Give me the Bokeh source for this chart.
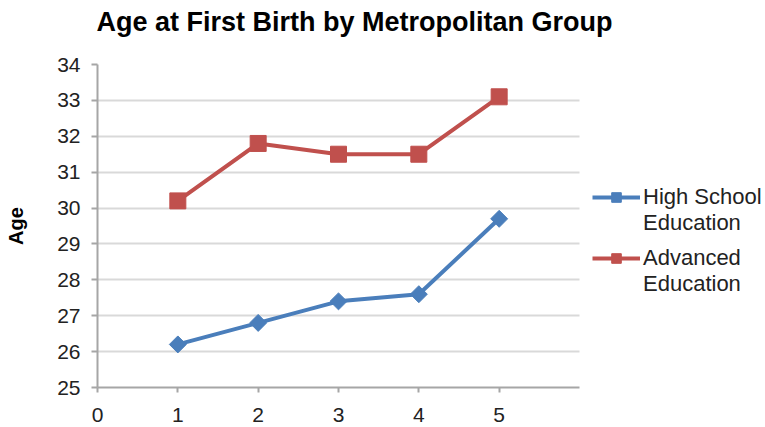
import numpy as np
from bokeh.plotting import figure
from bokeh.models import Range1d, FixedTicker, Legend, LegendItem, Title
from bokeh.embed import file_html
from bokeh.resources import INLINE

groups = [1, 2, 3, 4, 5]
high_school = [26.2, 26.8, 27.4, 27.6, 29.7]
advanced = [30.2, 31.8, 31.5, 31.5, 33.1]
x_ticks = [0, 1, 2, 3, 4, 5]
y_ticks = [25, 26, 27, 28, 29, 30, 31, 32, 33, 34]
x_axis_max = 6
title_text = "Age at First Birth by Metropolitan Group"

BLUE = "#4a7ebb"
RED = "#c0504d"
FONT = "Liberation Sans"

# frame spans from the y axis to the right edge of the page; the axis itself stops at 6
FRAME_L, AXIS_R, W = 97, 579, 765
x_end = x_axis_max * (W - FRAME_L) / (AXIS_R - FRAME_L)

p = figure(width=W, height=427, output_backend="svg", toolbar_location=None,
           x_range=Range1d(0, x_end), y_range=Range1d(25, 34),
           min_border_left=FRAME_L, min_border_right=0, min_border_top=64, min_border_bottom=40)
p.outline_line_color = None
p.background_fill_color = "white"
p.border_fill_color = "white"

# spacer nearest the frame, then the real title above it
spacer = Title(text=" ", text_font_size="10px", standoff=15, text_color="white")
p.add_layout(spacer, "above")
main_title = Title(text=title_text, text_font=FONT, text_font_size="27px",
                   text_font_style="bold", text_color="black", align="left",
                   offset=-1, standoff=0)
p.add_layout(main_title, "above")

p.xgrid.grid_line_color = None
try:
    p.ygrid.cross_bounds = (0, x_axis_max)
    p.ygrid.grid_line_color = "#d9d9d9"
    p.ygrid.grid_line_width = 2
except Exception:
    p.ygrid.grid_line_color = None
    p.segment(x0=[0] * len(y_ticks[1:]), x1=[x_axis_max] * len(y_ticks[1:]),
              y0=y_ticks[1:], y1=y_ticks[1:], line_color="#d9d9d9", line_width=2)

p.xaxis.ticker = FixedTicker(ticks=x_ticks)
p.yaxis.ticker = FixedTicker(ticks=y_ticks)
p.xaxis.bounds = (0, x_axis_max)
for ax in (p.xaxis[0], p.yaxis[0]):
    ax.axis_line_color = "#a6a6a6"
    ax.axis_line_width = 2
    ax.major_tick_line_color = "#a6a6a6"
    ax.major_tick_line_width = 2
    ax.minor_tick_line_color = None
    ax.major_tick_in = 0
    ax.major_label_text_font = FONT
    ax.major_label_text_font_size = "21px"
    ax.major_label_text_color = "#222222"
p.xaxis.major_tick_out = 5
p.xaxis.major_label_standoff = 15
p.yaxis.major_tick_out = 6
p.yaxis.major_label_standoff = 11
p.yaxis.axis_label = "Age"
p.yaxis.axis_label_text_font = FONT
p.yaxis.axis_label_text_font_size = "20px"
p.yaxis.axis_label_text_font_style = "bold"
p.yaxis.axis_label_text_color = "black"
p.yaxis.axis_label_standoff = 27

l1 = p.line(groups, high_school, line_color=BLUE, line_width=4)
m1 = p.scatter(groups, high_school, marker="square", angle=np.pi / 4, size=12,
               fill_color=BLUE, line_color=BLUE)
l2 = p.line(groups, advanced, line_color=RED, line_width=4)
m2 = p.scatter(groups, advanced, marker="square", size=16,
               fill_color=RED, line_color=RED)
blank = p.line([], [], line_alpha=0)


def make_legend(first, second, rends, loc):
    lg = Legend(items=[LegendItem(label=first, renderers=rends),
                       LegendItem(label=second, renderers=[blank])],
                location=loc)
    lg.border_line_color = None
    lg.background_fill_alpha = 0
    lg.padding = 0
    lg.margin = 0
    lg.spacing = 0
    lg.glyph_width = 48
    lg.glyph_height = 24
    lg.label_height = 16
    lg.label_standoff = 3
    lg.label_text_font = FONT
    lg.label_text_font_size = "22px"
    lg.label_text_color = "#222222"
    return lg


p.add_layout(make_legend("High School", "Education", [l1, m1], (495, 151)), "center")
p.add_layout(make_legend("Advanced", "Education", [l2, m2], (495, 90)), "center")

open("out.html", "w").write(file_html(p, INLINE))
